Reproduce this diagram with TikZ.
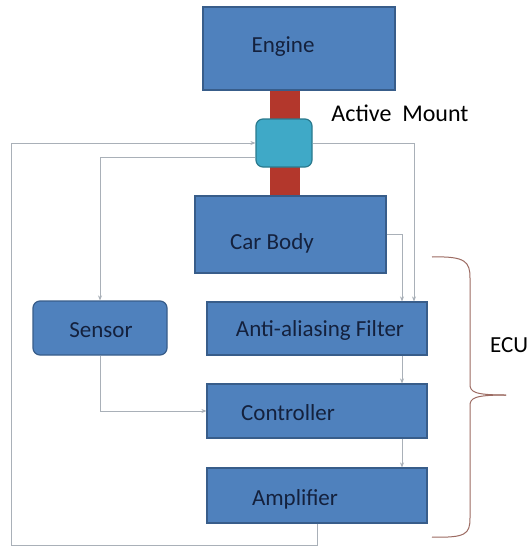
\documentclass[tikz,border=0pt]{standalone}
\usepackage{fontspec}
\setmainfont{Carlito}
\usetikzlibrary{arrows.meta}
\definecolor{boxfill}{HTML}{4F81BD}
\definecolor{boxdraw}{HTML}{385D8A}
\definecolor{mountfill}{HTML}{3FA9C7}
\definecolor{mountdraw}{HTML}{2B7A8E}
\definecolor{rodred}{HTML}{B3372C}
\definecolor{linegray}{HTML}{A9B0B8}
\definecolor{bracecol}{HTML}{9C6B62}
\definecolor{boxtext}{HTML}{14213D}
\tikzset{
  blockbox/.style={draw=boxdraw, fill=boxfill, line width=1.2pt, inner sep=0pt},
  blocktext/.style={text=boxtext, font=\fontsize{23}{26}\selectfont, inner sep=0pt},
  conn/.style={draw=linegray, line width=0.9pt},
  arr/.style={conn, -{Stealth[length=5pt,width=4pt]}},
}
\begin{document}
\begin{tikzpicture}[x=1pt,y=-1pt]
\useasboundingbox (0,0) rectangle (528,547);
\fill[white] (0,0) rectangle (528,547);
% rod
\fill[rodred] (270,90) rectangle (300,196);
% boxes
\node[blockbox, minimum width=192pt, minimum height=83pt] (engine) at (299,48.5) {};
\node[blocktext] (engineT) at (283,47) {Engine};
\node[blockbox, minimum width=191pt, minimum height=77pt] (body) at (290.5,234.5) {};
\node[blocktext] (bodyT) at (272,243) {Car Body};
\node[draw=mountdraw, fill=mountfill, line width=1.2pt, rounded corners=7pt, minimum width=56pt, minimum height=48pt, inner sep=0pt] (mount) at (284,143) {};
\node[font=\fontsize{24}{28}\selectfont, inner sep=0pt] (mountT) at (400,113) {Active\ \ Mount};
\node[blockbox, rounded corners=7pt, minimum width=134pt, minimum height=54pt] (sensor) at (100,328) {};
\node[blocktext] (sensorT) at (101,330) {Sensor};
\node[blockbox, minimum width=220pt, minimum height=53pt] (filter) at (317,328.5) {};
\node[blocktext] (filterT) at (320,330) {Anti-aliasing Filter};
\node[blockbox, minimum width=220pt, minimum height=54pt] (ctrl) at (317,411) {};
\node[blocktext] (ctrlT) at (288,413) {Controller};
\node[blockbox, minimum width=220pt, minimum height=55pt] (amp) at (317,495.5) {};
\node[blocktext] (ampT) at (295,499) {Amplifier};
\node[font=\fontsize{23}{26}\selectfont, anchor=west, inner sep=0pt] (ecuT) at (490,345) {ECU};
% connectors
\coordinate (loopbl) at (11,545);
\coordinate (looptl) at (11,143);
\draw[arr] (amp.south) -- (amp.south |- loopbl) -- (loopbl) -- (looptl) -- (mount.west);
\draw[arr] ([yshift=-14pt]mount.west) -| (sensor.north);
\draw[arr] (mount.east) -| ([xshift=97pt]filter.north);
\draw[arr] (body.east) -| ([xshift=85pt]filter.north);
\draw[arr] ([xshift=85pt]filter.south) -- ([xshift=85pt]ctrl.north);
\draw[arr] ([xshift=85pt]ctrl.south) -- ([xshift=85pt]amp.north);
\draw[arr] (sensor.south) |- (ctrl.west);
% brace
\draw[bracecol, line width=1pt]
  (432,257) .. controls (466,256) and (470,262) .. (470,278) -- (470,384)
  .. controls (470,392) and (474,395) .. (506,395);
\draw[bracecol, line width=1pt]
  (506,395) .. controls (474,395) and (470,398) .. (470,406) -- (470,518)
  .. controls (470,534) and (466,538) .. (432,537);
\end{tikzpicture}
\end{document}
